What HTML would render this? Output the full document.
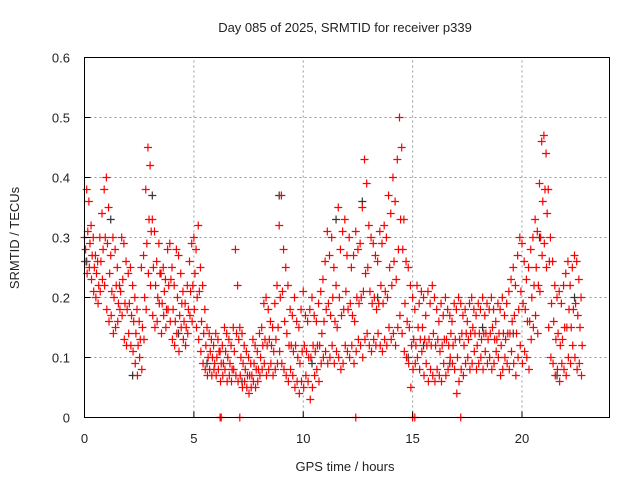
<!DOCTYPE html>
<html><head><meta charset="utf-8"><style>
html,body{margin:0;padding:0;background:#fff;}
svg{display:block;font-family:"Liberation Sans",sans-serif;}
</style></head><body>
<svg id="chart" width="640" height="480" viewBox="0 0 640 480">
<rect width="640" height="480" fill="#fff"/>
<text x="345" y="32" text-anchor="middle" font-size="13" fill="#222">Day 085 of 2025, SRMTID for receiver p339</text>
<text x="345" y="471" text-anchor="middle" font-size="13" fill="#222">GPS time / hours</text>
<text transform="translate(19,238) rotate(-90)" text-anchor="middle" font-size="13" fill="#222">SRMTID / TECUs</text>
<g id="grid"></g>
<g id="marks"></g>
<rect x="84.5" y="57.5" width="525" height="360" fill="none" stroke="#000" stroke-width="1"/>
<g id="ticks"></g>
</svg>
<script>
const xTicks=[0,5,10,15,20];
const yTicks=[0,0.1,0.2,0.3,0.4,0.5,0.6];
const yTickLabels=["0","0.1","0.2","0.3","0.4","0.5","0.6"];
const hiVals=[0.30,0.38,0.36,0.32,0.30,0.27,0.26,0.30,0.34,0.38,
0.40,0.35,0.27,0.30,0.28,0.25,0.22,0.30,0.29,0.26,
0.24,0.25,0.22,0.20,0.18,0.16,0.25,0.27,0.38,0.45,
0.42,0.33,0.31,0.26,0.29,0.24,0.25,0.23,0.28,0.29,
0.25,0.22,0.28,0.27,0.24,0.21,0.19,0.22,0.26,0.29,
0.30,0.28,0.32,0.25,0.22,0.18,0.15,0.14,0.13,0.12,
0.14,0.13,0.11,0.12,0.15,0.14,0.13,0.12,0.15,0.28,
0.22,0.15,0.14,0.12,0.11,0.10,0.09,0.13,0.12,0.11,
0.14,0.15,0.19,0.20,0.18,0.16,0.15,0.19,0.22,0.32,
0.37,0.28,0.25,0.22,0.18,0.17,0.20,0.16,0.15,0.18,
0.21,0.17,0.16,0.18,0.20,0.17,0.16,0.19,0.21,0.23,
0.26,0.31,0.27,0.30,0.25,0.22,0.35,0.28,0.31,0.33,
0.27,0.30,0.25,0.27,0.31,0.28,0.29,0.35,0.43,0.39,
0.32,0.30,0.29,0.27,0.26,0.31,0.29,0.32,0.30,0.37,
0.34,0.40,0.36,0.43,0.50,0.45,0.33,0.26,0.25,0.22,
0.20,0.18,0.22,0.19,0.21,0.20,0.17,0.21,0.19,0.22,
0.20,0.18,0.16,0.19,0.17,0.20,0.18,0.17,0.16,0.19,
0.18,0.20,0.19,0.17,0.18,0.16,0.19,0.20,0.18,0.17,
0.19,0.18,0.20,0.17,0.19,0.18,0.20,0.18,0.16,0.19,
0.18,0.20,0.17,0.19,0.21,0.23,0.25,0.22,0.27,0.30,
0.29,0.26,0.23,0.25,0.28,0.30,0.33,0.31,0.39,0.46,
0.47,0.44,0.38,0.30,0.26,0.22,0.20,0.21,0.19,0.22,
0.24,0.26,0.22,0.25,0.27,0.26,0.23,0.20];
const loVals=[0.26,0.24,0.25,0.23,0.21,0.20,0.19,0.21,0.23,0.22,
0.18,0.16,0.17,0.14,0.15,0.16,0.18,0.17,0.13,0.12,
0.14,0.12,0.11,0.09,0.07,0.10,0.08,0.13,0.18,0.24,
0.22,0.17,0.15,0.16,0.19,0.14,0.17,0.15,0.18,0.16,
0.13,0.12,0.14,0.11,0.15,0.13,0.12,0.14,0.17,0.16,
0.18,0.15,0.13,0.11,0.09,0.08,0.07,0.08,0.07,0.08,
0.07,0.08,0.06,0.07,0.08,0.06,0.07,0.06,0.08,0.07,
0.06,0.07,0.05,0.06,0.05,0.04,0.05,0.06,0.05,0.06,
0.07,0.08,0.09,0.07,0.08,0.09,0.07,0.08,0.09,0.11,
0.09,0.08,0.07,0.06,0.08,0.07,0.05,0.06,0.04,0.06,
0.05,0.07,0.06,0.03,0.05,0.07,0.08,0.06,0.09,0.10,
0.11,0.09,0.10,0.12,0.09,0.11,0.10,0.08,0.09,0.12,
0.11,0.10,0.12,0.09,0.11,0.13,0.12,0.10,0.13,0.14,
0.12,0.11,0.13,0.12,0.14,0.12,0.11,0.13,0.12,0.15,
0.13,0.14,0.12,0.15,0.17,0.14,0.11,0.10,0.09,0.05,
0.08,0.09,0.10,0.08,0.11,0.07,0.09,0.06,0.08,0.07,
0.06,0.08,0.07,0.06,0.09,0.07,0.08,0.10,0.09,0.08,
0.04,0.06,0.08,0.07,0.09,0.10,0.08,0.09,0.11,0.08,
0.09,0.10,0.08,0.11,0.09,0.10,0.08,0.09,0.11,0.10,
0.07,0.08,0.10,0.09,0.08,0.11,0.09,0.07,0.10,0.12,
0.09,0.11,0.10,0.08,0.13,0.15,0.17,0.14,0.21,0.27,
0.29,0.25,0.15,0.10,0.09,0.07,0.08,0.06,0.09,0.08,
0.07,0.10,0.09,0.12,0.10,0.08,0.09,0.07];
const midVals=[0.28,0.31,0.29,0.27,0.25,0.24,0.22,0.26,0.28,0.30,
0.29,0.24,0.21,0.20,0.22,0.19,0.21,0.23,0.19,0.18,
0.19,0.17,0.16,0.14,0.12,0.13,0.15,0.20,0.29,0.33,
0.31,0.25,0.22,0.20,0.24,0.19,0.21,0.18,0.22,0.23,
0.18,0.16,0.20,0.17,0.19,0.16,0.15,0.18,0.21,0.22,
0.24,0.20,0.21,0.16,0.14,0.12,0.10,0.11,0.10,0.09,
0.10,0.11,0.09,0.09,0.11,0.10,0.09,0.08,0.11,0.14,
0.13,0.10,0.09,0.08,0.07,0.07,0.07,0.09,0.08,0.08,
0.10,0.12,0.13,0.12,0.13,0.12,0.11,0.13,0.15,0.20,
0.21,0.16,0.14,0.12,0.12,0.11,0.12,0.10,0.09,0.11,
0.12,0.11,0.10,0.10,0.12,0.11,0.12,0.12,0.14,0.16,
0.18,0.19,0.17,0.20,0.16,0.15,0.20,0.17,0.18,0.21,
0.18,0.19,0.17,0.16,0.20,0.19,0.20,0.21,0.24,0.25,
0.21,0.19,0.20,0.18,0.19,0.22,0.19,0.21,0.20,0.25,
0.22,0.26,0.23,0.28,0.33,0.28,0.19,0.16,0.15,0.12,
0.13,0.12,0.15,0.13,0.15,0.13,0.12,0.13,0.12,0.14,
0.12,0.13,0.11,0.12,0.13,0.13,0.12,0.14,0.12,0.13,
0.10,0.13,0.14,0.12,0.14,0.13,0.14,0.15,0.14,0.12,
0.14,0.13,0.14,0.14,0.13,0.14,0.15,0.13,0.13,0.14,
0.12,0.14,0.13,0.14,0.14,0.16,0.17,0.14,0.18,0.21,
0.19,0.18,0.16,0.16,0.20,0.22,0.25,0.22,0.30,0.36,
0.38,0.34,0.26,0.19,0.16,0.13,0.14,0.12,0.13,0.15,
0.15,0.18,0.15,0.18,0.19,0.17,0.15,0.12];
const grayTimes=[0.1,1.2,2.2,3.1,4.3,5.6,7.2,8.9,10.4,11.5,12.7,13.4,14.8,15.5,16.7,18.2,19.6,20.8,21.6,22.4];
const grayVals=[0.26,0.33,0.07,0.37,0.14,0.09,0.06,0.37,0.09,0.33,0.36,0.20,0.10,0.12,0.09,0.15,0.14,0.30,0.07,0.20];
const zeroTimes=[6.2,6.25,7.1,12.4,15.0,15.1,17.2];
const ns="http://www.w3.org/2000/svg";
const X0=84.5,X1=609.5,Y0=417.5,Y1=57.5;
function xs(t){return X0+(X1-X0)*t/24;}
function ys(v){return Y0-(Y0-Y1)*v/0.6;}
const grid=document.getElementById('grid'),marks=document.getElementById('marks'),ticks=document.getElementById('ticks');
function mk(tag,attrs,parent){const e=document.createElementNS(ns,tag);for(const k in attrs)e.setAttribute(k,attrs[k]);parent.appendChild(e);return e;}
xTicks.forEach((t,i)=>{
 const x=xs(t);
 if(t>0){const g=mk('line',{x1:x,x2:x,y1:Y0,y2:Y1,stroke:'#999','stroke-dasharray':'2,3'},grid);
 
 }
 const tk=mk('line',{x1:x,x2:x,y1:Y0,y2:Y0-6,stroke:'#000'},ticks);
 
 
 const tl=mk('text',{x:x,y:443,'text-anchor':'middle','font-size':'13',fill:'#222'},ticks);
 tl.textContent=String(t);
 
 
});
yTicks.forEach((v,i)=>{
 const y=ys(v);
 if(v>0&&v<0.6){const g=mk('line',{x1:X0,x2:X1,y1:y,y2:y,stroke:'#999','stroke-dasharray':'2,3'},grid);
 
 }
 const tk=mk('line',{x1:X0,x2:X0+6,y1:y,y2:y,stroke:'#000'},ticks);
 
 
 const tl=mk('text',{x:70,y:y+5,'text-anchor':'end','font-size':'13',fill:'#222'},ticks);
 tl.textContent=yTickLabels[i];
 
 
});
function plus(t,v,color){
 const x=xs(t),y=ys(v);
 const p=mk('path',{d:`M${x-4} ${y}H${x+4}M${x} ${y-4}V${y+4}`,stroke:color,'stroke-width':'1.2',fill:'none'},marks);
 
 
}
grayTimes.forEach((t,i)=>plus(t,grayVals[i],'#333'));
hiVals.forEach((v,i)=>plus(i*0.1,v,'#f00'));
midVals.forEach((v,i)=>plus(i*0.1+0.05,v,'#f00'));
loVals.forEach((v,i)=>plus(i*0.1+0.02,v,'#f00'));
zeroTimes.forEach(t=>plus(t,0,'#f00'));
</script>
</body></html>
